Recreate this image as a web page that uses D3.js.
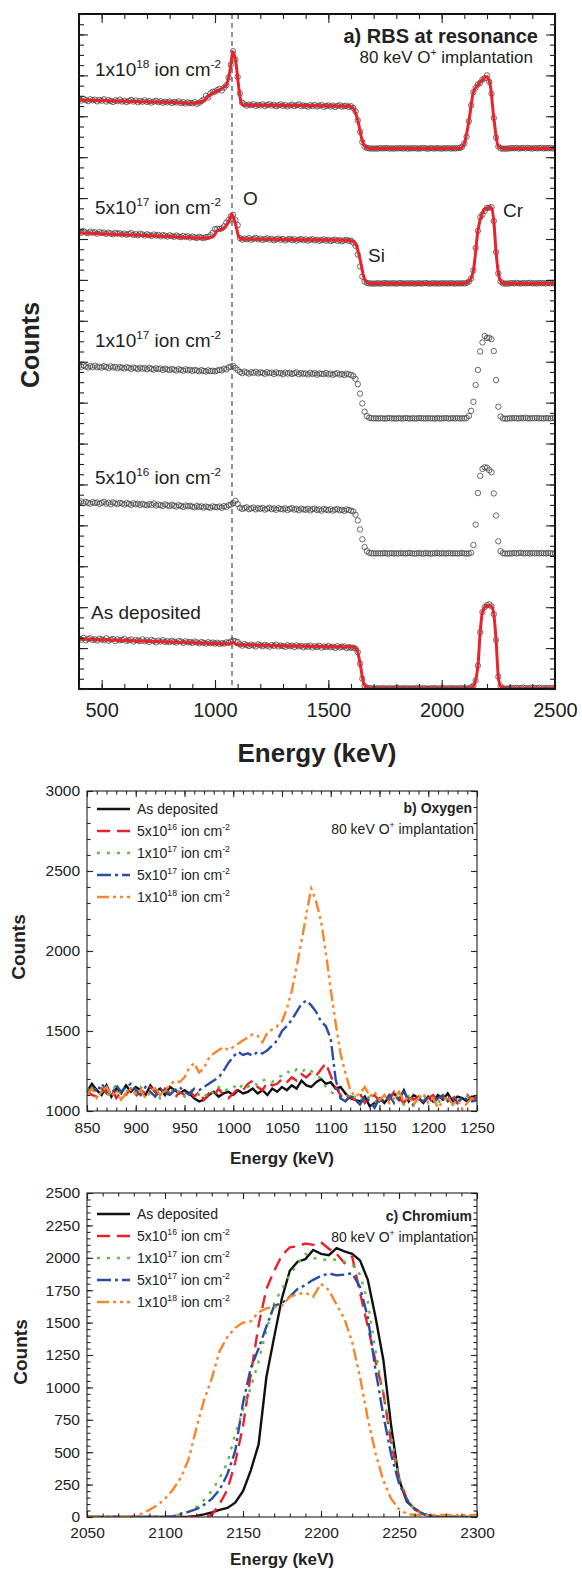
<!DOCTYPE html>
<html>
<head>
<meta charset="utf-8">
<script src="https://cdn.jsdelivr.net/npm/d3@7"></script>
<style>
body{margin:0;background:#fff;}
text{font-family:"Liberation Sans", Arial, sans-serif;fill:#222;}
</style>
</head>
<body>
<div id="chart"></div>
<script>
// ---------- a) RBS spectra, one channel every 10 keV ----------
var rbsEnergy = d3.range(400, 2501, 10);

var rbsAsDeposited = [
1230,1205,1250,1190,1225,1240,1200,1215,1185,1230,1210,1195,1240,1180,1205,1225,1170,1215,1190,1200,
1225,1175,1190,1210,1160,1200,1185,1170,1215,1165,1190,1150,1200,1175,1140,1185,1160,1195,1150,1170,
1145,1180,1155,1135,1175,1160,1130,1165,1140,1150,1125,1160,1140,1115,1150,1130,1110,1145,1120,1135,
1110,
1130,1100,1120,1110,1140,1130,1160,1180,1170,1150,
1090,1060,1100,1075,1050,1085,1065,1040,1090,1070,1045,1080,1060,1035,1075,1055,1085,1040,1065,1050,
1030,1070,1045,1060,1025,1065,1040,1055,1020,1050,1035,1060,1015,1045,1030,1055,1010,1040,1025,1050,
1020,1035,1005,1045,1015,1030,1040,1000,1025,1010,
1010,990,900,620,250,70,30,20,15,12,
12,18,10,22,15,8,20,14,11,25,16,9,19,13,21,10,17,12,24,15,11,20,14,8,18,13,22,10,16,12,19,9,15,21,13,17,10,23,14,18,
10,15,40,80,210,570,1390,1880,2000,2050,2070,2020,1830,1200,300,70,15,10,8,
12,25,18,30,15,22,35,20,14,28,17,24,19,31,16,21,13,26,18,23,15];

var rbs5e16 = [
1260,1285,1240,1275,1250,1230,1270,1245,1260,1225,1250,1275,1230,1255,1215,1260,1240,1220,1250,1235,
1210,1245,1225,1200,1240,1215,1230,1195,1225,1205,1190,1220,1200,1235,1185,1210,1195,1175,1215,1190,
1170,1205,1180,1160,1195,1175,1150,1185,1165,1180,1155,1140,1175,1150,1165,1135,1160,1145,1130,1165,
1150,
1140,1160,1130,1170,1150,1190,1210,1240,1300,1220,
1130,1100,1125,1140,1095,1115,1135,1090,1120,1105,1125,1085,1110,1130,1095,1115,1080,1120,1100,1090,
1115,1075,1105,1120,1085,1100,1070,1110,1090,1080,1105,1065,1095,1110,1075,1090,1060,1100,1085,1070,
1095,1060,1085,1100,1070,1080,1055,1090,1075,1060,
1040,960,820,600,360,170,70,30,20,15,
14,20,11,17,23,9,16,21,13,18,10,22,15,12,19,25,14,9,17,20,13,11,21,16,8,18,14,24,12,19,15,10,22,17,13,20,11,16,23,14,
10,12,30,220,720,1490,1910,2080,2120,2110,2050,2000,1480,940,310,70,20,10,8,
18,12,26,15,21,30,14,19,24,11,28,16,22,13,27,18,15,25,20,12,17];

var rbs1e17 = [
1300,1275,1310,1285,1260,1295,1270,1305,1265,1280,1255,1290,1270,1245,1285,1260,1275,1240,1270,1255,
1235,1265,1250,1225,1260,1240,1220,1255,1230,1245,1215,1250,1225,1205,1240,1220,1235,1200,1230,1210,
1195,1225,1205,1185,1220,1200,1180,1215,1190,1205,1175,1200,1185,1165,1195,1175,1160,1190,1170,1180,
1165,
1185,1200,1190,1230,1210,1260,1280,1300,1250,1200,
1150,1120,1160,1135,1110,1145,1125,1155,1115,1140,1130,1105,1145,1120,1135,1100,1140,1115,1125,1095,
1135,1110,1130,1100,1120,1140,1095,1125,1105,1115,1090,1130,1100,1120,1085,1115,1105,1095,1125,1090,
1110,1080,1105,1120,1085,1100,1075,1110,1090,1080,
1050,980,850,620,380,180,70,30,20,15,
17,11,22,14,9,19,25,13,16,10,21,15,12,24,18,8,20,14,11,23,16,19,10,22,13,17,9,21,15,12,18,24,11,16,20,13,25,10,19,14,
25,75,200,420,830,1200,1650,1870,2030,1980,1985,1950,1660,950,300,60,15,10,8,
20,14,27,18,12,25,16,31,19,13,22,17,28,14,21,11,24,18,15,26,19];

var rbs5e17 = [
1275,1250,1290,1260,1240,1280,1255,1265,1230,1270,1245,1260,1225,1255,1235,1215,1250,1230,1240,1210,
1235,1205,1225,1245,1200,1220,1190,1230,1210,1185,1215,1195,1175,1210,1185,1200,1165,1195,1180,1160,
1190,1170,1155,1185,1160,1145,1175,1150,1165,1135,1160,1140,1125,1155,1135,1120,1145,1150,1190,1250,
1340,
1350,1345,1360,1410,1500,1560,1660,1690,1560,1440,
1120,1085,1110,1095,1120,1080,1105,1125,1090,1110,1075,1100,1115,1085,1105,1070,1095,1110,1080,1100,
1065,1090,1105,1075,1095,1060,1085,1100,1070,1090,1060,1080,1095,1065,1085,1055,1075,1090,1060,1080,
1050,1070,1085,1055,1075,1045,1065,1080,1055,1060,
1010,930,720,430,180,60,25,15,12,10,
12,19,9,15,22,11,17,13,20,8,16,23,10,14,18,12,21,9,15,19,11,17,24,13,10,20,14,16,9,22,13,18,11,21,15,10,19,12,17,14,
25,60,140,330,880,1300,1630,1700,1790,1860,1865,1880,1540,780,260,60,15,10,8,
16,22,13,27,18,11,24,15,20,29,14,19,12,25,17,21,13,28,16,19,23];

var rbs1e18 = [
1210,1185,1225,1195,1170,1215,1190,1205,1165,1200,1180,1215,1160,1195,1175,1150,1190,1170,1205,1160,
1180,1145,1175,1200,1160,1185,1140,1175,1155,1190,1150,1170,1135,1160,1180,1145,1165,1130,1155,1140,
1160,1125,1150,1135,1165,1120,1145,1110,1140,1125,1115,1145,1105,1130,1170,1210,1300,1260,1360,1400,
1400,
1440,1470,1430,1500,1560,1750,2060,2390,2190,1760,
1360,1130,1090,1060,1085,1070,1095,1055,1080,1065,1090,1050,1075,1095,1060,1080,1045,1070,1090,1055,
1075,1040,1065,1085,1050,1070,1090,1045,1065,1055,1035,1070,1050,1080,1040,1060,1075,1030,1055,1065,
1040,1060,1025,1055,1070,1035,1050,1060,1030,1045,
1000,920,700,420,170,55,25,15,12,10,
15,10,21,13,18,24,11,16,9,20,14,19,12,23,10,17,15,22,13,11,18,25,14,9,20,16,12,21,15,10,19,13,24,11,17,14,22,25,55,140,
300,680,1070,1390,1500,1580,1620,1700,1730,1800,1640,1350,760,280,60,15,10,8,12,
14,21,17,26,12,19,24,15,28,18,11,23,16,20,27,13,22,17,25,14,19];

// stacking offset of each spectrum (counts), bottom to top
var rbsOffsets = [0, 3300, 6600, 9900, 13200];

// simulated fits [energy, counts]
var fitAsDeposited = [[400,1220],[600,1185],[800,1150],[1000,1115],[1070,1105],[1080,1150],[1092,1090],[1200,1070],[1400,1045],[1600,1030],
  [1625,985],[1640,620],[1655,160],[1670,30],[1690,12],[2120,12],[2140,75],[2160,560],[2170,1390],[2180,1880],[2200,2040],
  [2220,2020],[2230,1830],[2240,1200],[2250,290],[2260,65],[2275,12],[2500,12]];
var fit5e17 = [[400,1255],[600,1205],[800,1160],[950,1125],[990,1150],[1010,1300],[1040,1365],[1060,1520],[1075,1700],
  [1090,1480],[1105,1160],[1120,1100],[1300,1090],[1500,1075],[1600,1065],[1620,990],[1640,600],[1660,110],[1680,15],
  [2100,15],[2120,60],[2140,330],[2160,1300],[2180,1740],[2200,1860],[2220,1870],[2230,1540],[2240,780],[2255,140],[2270,12],[2500,12]];
var fit1e18 = [[400,1195],[600,1165],[800,1140],[900,1120],[940,1150],[980,1330],[1020,1450],[1050,1560],[1065,1880],
  [1080,2380],[1092,2120],[1105,1500],[1115,1150],[1125,1075],[1300,1065],[1500,1055],[1590,1045],[1610,1000],[1630,700],
  [1650,200],[1665,40],[1680,12],[2080,15],[2100,140],[2120,680],[2140,1390],[2160,1570],[2180,1690],[2200,1770],
  [2215,1540],[2230,760],[2250,60],[2270,12],[2500,12]];

// ---------- b) oxygen region, 5 keV steps ----------
var oxEnergy = d3.range(850, 1251, 5);
var oxAsDeposited = [
1120,1170,1130,1100,1160,1090,1140,1110,1160,1120, 1150,1130,1100,1160,1120,1140,1100,1150,1130,1110,
1130,1110,1080,1060,1070,1100,1120,1090,1110,1120, 1100,1130,1110,1120,1140,1110,1130,1100,1140,1120,
1150,1130,1160,1140,1190,1160,1150,1180,1200,1170, 1180,1140,1150,1110,1080,1070,1060,1090,1030,1050,
1080,1050,1090,1110,1070,1130,1060,1100,1080,1050, 1090,1060,1100,1070,1110,1060,1090,1080,1060,1090, 1080];
var ox5e16 = [
1130,1100,1090,1140,1110,1150,1080,1120,1100,1140, 1090,1130,1110,1150,1120,1090,1140,1110,1080,1120,
1100,1130,1090,1120,1070,1110,1090,1140,1100,1080, 1110,1140,1130,1170,1190,1150,1130,1180,1160,1170,
1200,1180,1210,1190,1230,1210,1240,1220,1260,1300, 1220,1150,1100,1060,1090,1070,1110,1050,1080,1100,
1060,1090,1070,1120,1080,1050,1100,1070,1090,1060, 1080,1100,1060,1090,1070,1110,1050,1080,1100,1070, 1090];
var ox1e17 = [
1140,1110,1150,1120,1090,1130,1160,1100,1120,1140, 1110,1150,1120,1100,1140,1080,1120,1150,1100,1130,
1090,1120,1140,1100,1080,1130,1110,1150,1120,1140, 1160,1130,1170,1150,1180,1160,1190,1200,1180,1210,
1220,1250,1230,1260,1240,1270,1250,1230,1200,1150, 1120,1100,1080,1110,1070,1090,1060,1100,1080,1050,
1090,1060,1080,1110,1070,1040,1090,1025,1080,1100, 1060,1080,1050,1090,1070,1040,1080,1060,1090,1070, 1060];
var ox5e17 = [
1110,1150,1120,1170,1130,1100,1160,1120,1150,1170, 1130,1100,1150,1120,1090,1140,1110,1100,1130,1150,
1120,1100,1140,1130,1150,1170,1190,1210,1250,1300, 1340,1370,1350,1360,1345,1370,1360,1380,1410,1440,
1500,1530,1570,1620,1670,1690,1660,1620,1560,1530, 1450,1200,1080,1060,1100,1070,1040,1090,1060,1020,
1080,1060,1100,1050,1090,1120,1070,1040,1080,1060, 1090,1050,1080,1100,1060,1080,1050,1090,1070,1060, 1070];
var ox1e18 = [
1100,1140,1080,1120,1150,1090,1130,1070,1110,1140, 1100,1130,1080,1120,1150,1100,1130,1160,1190,1180,
1210,1270,1300,1240,1270,1330,1360,1380,1400,1380, 1400,1420,1440,1460,1480,1470,1430,1490,1510,1530,
1560,1640,1750,1900,2060,2230,2390,2310,2190,1990, 1760,1550,1360,1240,1130,1090,1110,1150,1090,1120,
1070,1100,1050,1080,1120,1060,1090,1040,1080,1110, 1050,1080,1020,1060,1090,1040,1070,1010,1050,1080, 1060];

// ---------- c) chromium region, 5 keV steps ----------
var crEnergy = d3.range(2050, 2301, 5);
var crAsDeposited = [0,0,0,0,0,0,0,0,0,0,0,0,0,
2,8,20,35,55,70,110,200,360,560,1080,1390,1690,1900,1970,1990,2060,2030,2020,2075,2050,2030,1980,1830,
1540,1210,700,290,120,65,25,8,0,0,0,0,0,0];
var cr5e16 = [0,0,0,0,0,0,0,0,0,0,0,0,0,0,0,
5,15,100,210,420,700,1100,1480,1760,1900,2020,2080,2090,2110,2100,2120,2070,2030,1960,2010,1730,1470,
1200,955,570,300,140,60,25,10,0,0,0,0,0,0];
var cr1e17 = [0,0,0,0,0,0,0,0,0,0,0,
5,20,40,75,130,200,300,420,640,830,1000,1200,1440,1650,1760,1870,1950,2030,2000,1980,1990,1985,1970,
1950,1870,1660,1280,950,620,300,130,60,25,8,0,0,0,0,0,0];
var cr5e17 = [0,0,0,0,0,0,0,0,0,0,0,
5,25,40,60,95,140,210,330,510,880,1150,1300,1470,1630,1650,1700,1760,1790,1830,1860,1880,1865,1870,
1880,1775,1540,1130,780,480,260,130,60,25,10,0,0,0,0,0,0];
var cr1e18 = [0,0,0,0,0,0,
5,25,55,90,140,210,300,440,680,900,1070,1280,1390,1460,1500,1510,1580,1610,1620,1630,1700,1720,1730,
1700,1800,1750,1640,1530,1350,1080,760,490,280,140,60,25,15,15,15,15,15,15,15,15,15];

var seriesColors = ["#111111", "#e8232b", "#62bb46", "#2b4da3", "#f5862b"];
var seriesDash = [null, "13,7", "3,7", "14,4,3,4", "12,4,3,4,3,4"];
var legendMant = [null, "5", "1", "5", "1"];
var legendExp = [null, "16", "17", "17", "18"];

var svg = d3.select("#chart").append("svg").attr("width", 582).attr("height", 1571);

function noLabel(){ return ""; }

function addTicks(parent, axisFn, scale, pos, values, len, fmt, pad, fs){
  var ax = axisFn(scale).tickValues(values).tickSize(-len).tickSizeOuter(0)
    .tickPadding(pad || 3).tickFormat(fmt || noLabel);
  var gg = parent.append("g").attr("transform", pos).call(ax);
  gg.select(".domain").remove();
  gg.selectAll("line").style("stroke", "#222").style("stroke-width", 1.1);
  gg.selectAll("text").style("font-size", (fs || 10) + "px").style("fill", "#222")
    .style("font-family", '"Liberation Sans", Arial, sans-serif');
  return gg;
}

// "5x10^16 ion cm^-2"
function ionLabel(sel, x, y, mant, exp, size){
  var t = sel.append("text").attr("x", x).attr("y", y).style("font-size", size + "px");
  var up = size * 0.42;
  t.append("tspan").text(mant + "x10");
  t.append("tspan").attr("dy", -up).style("font-size", (size * 0.62) + "px").text(exp);
  t.append("tspan").attr("dy", up).text(" ion cm");
  t.append("tspan").attr("dy", -up).style("font-size", (size * 0.62) + "px").text("-2");
  return t;
}

function implantLabel(sel, x, y, size){
  var t = sel.append("text").attr("x", x).attr("y", y).style("font-size", size + "px")
    .attr("text-anchor", "end");
  t.append("tspan").text("80 keV O");
  t.append("tspan").attr("dy", -size * 0.42).style("font-size", (size * 0.62) + "px").text("+");
  t.append("tspan").attr("dy", size * 0.42).text(" implantation");
  return t;
}

function drawRBS(){
  var left = 79, right = 555, top = 14, bottom = 689;
  var x = d3.scaleLinear().domain([400, 2500]).range([left, right]);
  var y = d3.scaleLinear().domain([0, 16500]).range([bottom, top]);
  var g = svg.append("g");

  g.append("clipPath").attr("id", "clipA").append("rect")
    .attr("x", left).attr("y", top).attr("width", right - left).attr("height", bottom - top);

  var spectra = [
    {counts: rbsAsDeposited, fit: fitAsDeposited},
    {counts: rbs5e16, fit: null},
    {counts: rbs1e17, fit: null},
    {counts: rbs5e17, fit: fit5e17},
    {counts: rbs1e18, fit: fit1e18}
  ];

  // dashed marker at the oxygen resonance
  g.append("line").attr("x1", x(1075)).attr("x2", x(1075)).attr("y1", top).attr("y2", bottom)
    .style("stroke", "#333").style("stroke-width", 1.1).style("stroke-dasharray", "5,4");

  var plot = g.append("g").attr("clip-path", "url(#clipA)");
  spectra.forEach(function(s, k){
    var off = rbsOffsets[k];
    plot.append("g").selectAll("circle").data(s.counts).enter().append("circle")
      .attr("cx", function(d, i){ return x(rbsEnergy[i]); })
      .attr("cy", function(d){ return y(d + off); })
      .attr("r", 2.7)
      .style("fill", "none").style("stroke", "#444").style("stroke-width", 0.8);
    if (s.fit) {
      plot.append("path").datum(s.fit)
        .attr("d", d3.line().curve(d3.curveMonotoneX)
          .x(function(d){ return x(d[0]); })
          .y(function(d){ return y(d[1] + off); }))
        .style("fill", "none").style("stroke", "#e8232b").style("stroke-width", 3);
    }
  });

  // frame and ticks
  g.append("rect").attr("x", left).attr("y", top).attr("width", right - left).attr("height", bottom - top)
    .style("fill", "none").style("stroke", "#111").style("stroke-width", 2);

  var xMinor = d3.range(400, 2501, 100);
  var xMajor = [500, 1000, 1500, 2000, 2500];
  var yMinor = d3.range(0, 16501, 250);
  var yMajor = d3.range(0, 16501, 1000);
  addTicks(g, d3.axisBottom, x, "translate(0," + bottom + ")", xMinor, 5);
  addTicks(g, d3.axisBottom, x, "translate(0," + bottom + ")", xMajor, 9, d3.format("d"), 14, 20);
  addTicks(g, d3.axisTop, x, "translate(0," + top + ")", xMinor, 5);
  addTicks(g, d3.axisTop, x, "translate(0," + top + ")", xMajor, 9);
  addTicks(g, d3.axisLeft, y, "translate(" + left + ",0)", yMinor, 5);
  addTicks(g, d3.axisLeft, y, "translate(" + left + ",0)", yMajor, 9);
  addTicks(g, d3.axisRight, y, "translate(" + right + ",0)", yMinor, 5);
  addTicks(g, d3.axisRight, y, "translate(" + right + ",0)", yMajor, 9);

  g.append("text").attr("x", 317).attr("y", 762).attr("text-anchor", "middle")
    .style("font-size", "26px").style("font-weight", "bold").text("Energy (keV)");
  g.append("text").attr("transform", "translate(39,345) rotate(-90)").attr("text-anchor", "middle")
    .style("font-size", "25px").style("font-weight", "bold").text("Counts");

  g.append("text").attr("x", 538).attr("y", 43).attr("text-anchor", "end")
    .style("font-size", "20px").style("font-weight", "bold").text("a) RBS at resonance");
  implantLabel(g, 533, 63, 17);

  ionLabel(g, 95, 76, "1", "18", 19);
  ionLabel(g, 95, 214, "5", "17", 19);
  ionLabel(g, 95, 347, "1", "17", 19);
  ionLabel(g, 95, 484, "5", "16", 19);
  g.append("text").attr("x", 91).attr("y", 619).style("font-size", "19px").text("As deposited");
  g.append("text").attr("x", 243).attr("y", 205).style("font-size", "19px").text("O");
  g.append("text").attr("x", 368).attr("y", 262).style("font-size", "19px").text("Si");
  g.append("text").attr("x", 503).attr("y", 217).style("font-size", "19px").text("Cr");
}

function drawProfile(cfg){
  var left = 87, right = 477;
  var x = d3.scaleLinear().domain(cfg.xDomain).range([left, right]);
  var y = d3.scaleLinear().domain(cfg.yDomain).range([cfg.bottom, cfg.top]);
  var g = svg.append("g");

  g.append("clipPath").attr("id", cfg.id).append("rect")
    .attr("x", left).attr("y", cfg.top - 2).attr("width", right - left).attr("height", cfg.bottom - cfg.top + 2);

  var plot = g.append("g").attr("clip-path", "url(#" + cfg.id + ")");
  cfg.series.forEach(function(vals, k){
    plot.append("path").datum(vals)
      .attr("d", d3.line()
        .x(function(d, i){ return x(cfg.energy[i]); })
        .y(function(d){ return y(d); }))
      .style("fill", "none").style("stroke", seriesColors[k]).style("stroke-width", 2.4)
      .style("stroke-dasharray", seriesDash[k]);
  });

  g.append("rect").attr("x", left).attr("y", cfg.top).attr("width", right - left).attr("height", cfg.bottom - cfg.top)
    .style("fill", "none").style("stroke", "#333").style("stroke-width", 1.2);

  var xMinor = d3.range(cfg.xDomain[0], cfg.xDomain[1] + 1, 10);
  var xMajor = d3.range(cfg.xDomain[0], cfg.xDomain[1] + 1, 50);
  var yMinor = d3.range(cfg.yDomain[0], cfg.yDomain[1] + 1, cfg.yMinor);
  var yMajor = d3.range(cfg.yDomain[0], cfg.yDomain[1] + 1, cfg.yMajor);
  addTicks(g, d3.axisBottom, x, "translate(0," + cfg.bottom + ")", xMinor, 3.5);
  addTicks(g, d3.axisBottom, x, "translate(0," + cfg.bottom + ")", xMajor, 6, d3.format("d"), cfg.xPad, 15.5);
  addTicks(g, d3.axisTop, x, "translate(0," + cfg.top + ")", xMinor, 3.5);
  addTicks(g, d3.axisTop, x, "translate(0," + cfg.top + ")", xMajor, 6);
  addTicks(g, d3.axisLeft, y, "translate(" + left + ",0)", yMinor, 3.5);
  addTicks(g, d3.axisLeft, y, "translate(" + left + ",0)", yMajor, 6, d3.format("d"), 7, 15.5);
  addTicks(g, d3.axisRight, y, "translate(" + right + ",0)", yMinor, 3.5);
  addTicks(g, d3.axisRight, y, "translate(" + right + ",0)", yMajor, 6);

  g.append("text").attr("x", 282).attr("y", cfg.xLabelY).attr("text-anchor", "middle")
    .style("font-size", "17px").style("font-weight", "bold").text("Energy (keV)");
  g.append("text").attr("transform", "translate(" + cfg.yLabelX + "," + cfg.yLabelY + ") rotate(-90)")
    .attr("text-anchor", "middle").style("font-size", "19px").style("font-weight", "bold").text("Counts");

  // legend
  for (var k = 0; k < 5; k++) {
    var ly = cfg.legendY + k * 22;
    g.append("line").attr("x1", 97).attr("x2", 130).attr("y1", ly - 5).attr("y2", ly - 5)
      .style("stroke", seriesColors[k]).style("stroke-width", 2.4).style("stroke-dasharray", seriesDash[k]);
    if (k == 0) {
      g.append("text").attr("x", 137).attr("y", ly).style("font-size", "14px").text("As deposited");
    } else {
      ionLabel(g, 137, ly, legendMant[k], legendExp[k], 14);
    }
  }

  g.append("text").attr("x", 472).attr("y", cfg.titleY).attr("text-anchor", "end")
    .style("font-size", "14px").style("font-weight", "bold").text(cfg.title);
  implantLabel(g, 474, cfg.titleY + 21, 14);
}

drawRBS();

drawProfile({
  id: "clipB", xDomain: [850, 1250], yDomain: [1000, 3000], top: 791, bottom: 1111,
  yMajor: 500, yMinor: 100, energy: oxEnergy,
  series: [oxAsDeposited, ox5e16, ox1e17, ox5e17, ox1e18],
  xPad: 10.5, xLabelY: 1164, yLabelX: 25, yLabelY: 947,
  legendY: 814, title: "b) Oxygen", titleY: 813
});

drawProfile({
  id: "clipC", xDomain: [2050, 2300], yDomain: [0, 2500], top: 1193, bottom: 1517,
  yMajor: 250, yMinor: 50, energy: crEnergy,
  series: [crAsDeposited, cr5e16, cr1e17, cr5e17, cr1e18],
  xPad: 9.5, xLabelY: 1565, yLabelX: 27, yLabelY: 1352,
  legendY: 1219, title: "c) Chromium", titleY: 1221
});
</script>
</body>
</html>
